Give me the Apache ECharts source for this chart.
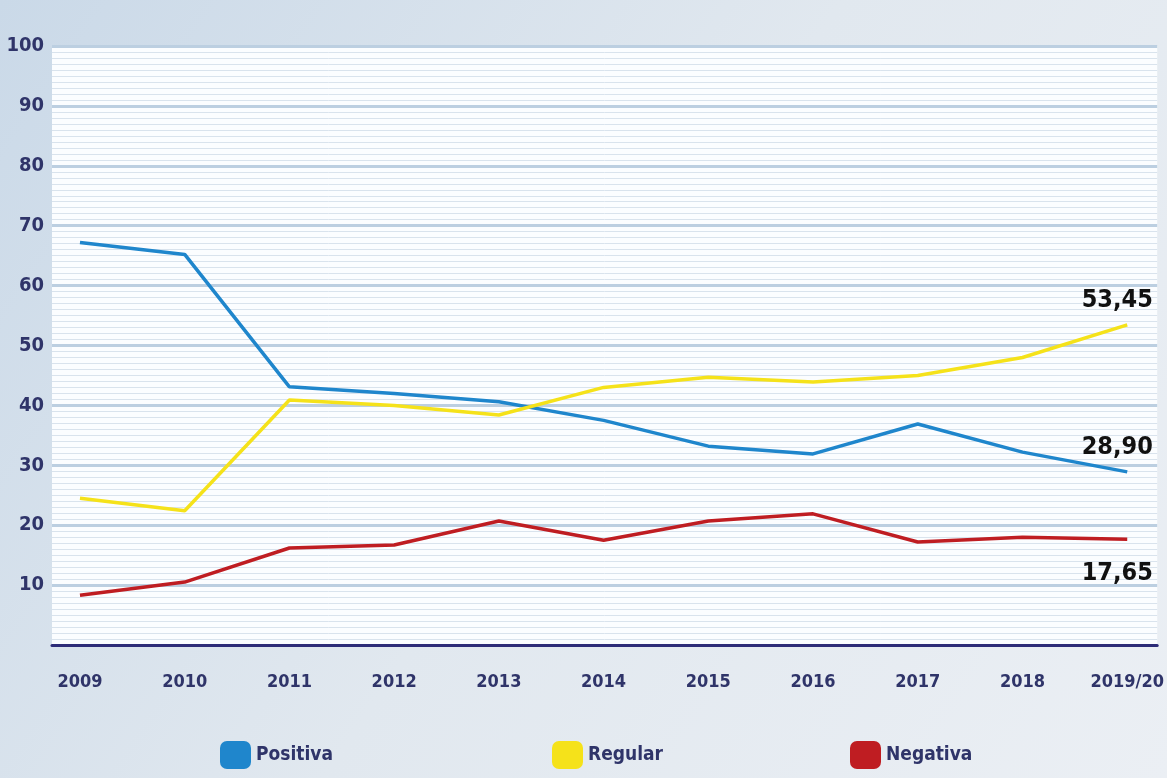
<!DOCTYPE html>
<html>
<head>
<meta charset="utf-8">
<script src="https://cdn.jsdelivr.net/npm/echarts@6/dist/echarts.min.js"></script>
<style>
  html, body { margin: 0; padding: 0; }
  #chart { width: 1167px; height: 778px; }
</style>
</head>
<body>
<div id="chart"></div>
<script>
const years = ['2009', '2010', '2011', '2012', '2013', '2014', '2015', '2016', '2017', '2018', '2019/20']
const positiva = [67.2, 65.2, 43.1, 42, 40.6, 37.5, 33.2, 31.9, 36.9, 32.2, 28.9]
const regular = [24.5, 22.4, 40.9, 40, 38.4, 43, 44.7, 43.9, 45, 48, 53.45]
const negativa = [8.3, 10.5, 16.2, 16.7, 20.7, 17.5, 20.7, 21.9, 17.2, 18, 17.65]
const yTicks = [10, 20, 30, 40, 50, 60, 70, 80, 90, 100]

const font = '"Liberation Sans Narrow", "DejaVu Sans Condensed", "Roboto", sans-serif'
const navy = '#2f3469'

const chart = echarts.init(document.getElementById('chart'))

function pts(arr) {
  return arr.map((v, i) => [i, v])
}

// only the last point gets a value label
function endLabel(pos, dist) {
  return {
    show: true,
    position: pos,
    distance: dist,
    offset: [-10, 0],
    fontFamily: font,
    fontWeight: 'bold',
    fontSize: 25,
    color: '#111',
    formatter: p => p.dataIndex === years.length - 1 ? p.value[1].toFixed(2).replace('.', ',') : ''
  }
}

function lineSeries(name, data, color, pos, dist) {
  return {
    name,
    type: 'line',
    data: pts(data),
    symbol: 'circle',
    symbolSize: 0.01,
    lineStyle: { color, width: 3.5 },
    itemStyle: { color },
    label: endLabel(pos, dist),
    emphasis: { disabled: true },
    z: 5
  }
}

function legendAt(name, left) {
  return {
    data: [name],
    left,
    top: 736,
    icon: 'roundRect',
    itemWidth: 31,
    itemHeight: 28,
    itemGap: 10,
    textStyle: { fontFamily: font, fontWeight: 'bold', fontSize: 19, color: navy }
  }
}

chart.setOption({
  backgroundColor: {
    type: 'linear', x: 0, y: 0, x2: 1, y2: 1,
    colorStops: [
      { offset: 0, color: '#cad9e8' },
      { offset: 0.5, color: '#e1e8ef' },
      { offset: 1, color: '#ebeff4' }
    ]
  },
  animation: false,
  grid: {
    left: 52, right: 9, top: 46, bottom: 133,
    show: true, backgroundColor: '#fbfdff', borderWidth: 0
  },
  legend: [
    legendAt('Positiva', 215),
    legendAt('Regular', 547),
    legendAt('Negativa', 845)
  ],
  xAxis: {
    type: 'value',
    min: -0.267,
    max: 10.286,
    splitLine: { show: false },
    axisLine: { show: true, onZero: false, lineStyle: { color: '#2d2c78', width: 3 } },
    axisTick: { show: false },
    axisLabel: {
      customValues: years.map((y, i) => i),
      formatter: v => years[Math.round(v)],
      margin: 28,
      fontFamily: font,
      fontWeight: 'bold',
      fontSize: 18,
      color: navy
    }
  },
  yAxis: {
    type: 'value',
    min: 0,
    max: 100,
    interval: 10,
    axisLine: { show: false },
    axisTick: { show: false },
    axisLabel: {
      formatter: v => yTicks.includes(v) ? String(v) : '',
      margin: 8,
      fontFamily: font,
      fontWeight: 'bold',
      fontSize: 20,
      color: navy
    },
    splitLine: { lineStyle: { color: '#bccfe1', width: 3 } },
    minorTick: { show: false, splitNumber: 10 },
    minorSplitLine: { show: true, lineStyle: { color: '#d9e3ed', width: 1 } }
  },
  series: [
    lineSeries('Positiva', positiva, '#1f86cc', 'top', 12),
    lineSeries('Regular', regular, '#f5e21a', 'top', 12),
    lineSeries('Negativa', negativa, '#bf1d22', 'bottom', 22)
  ]
})
</script>
</body>
</html>
